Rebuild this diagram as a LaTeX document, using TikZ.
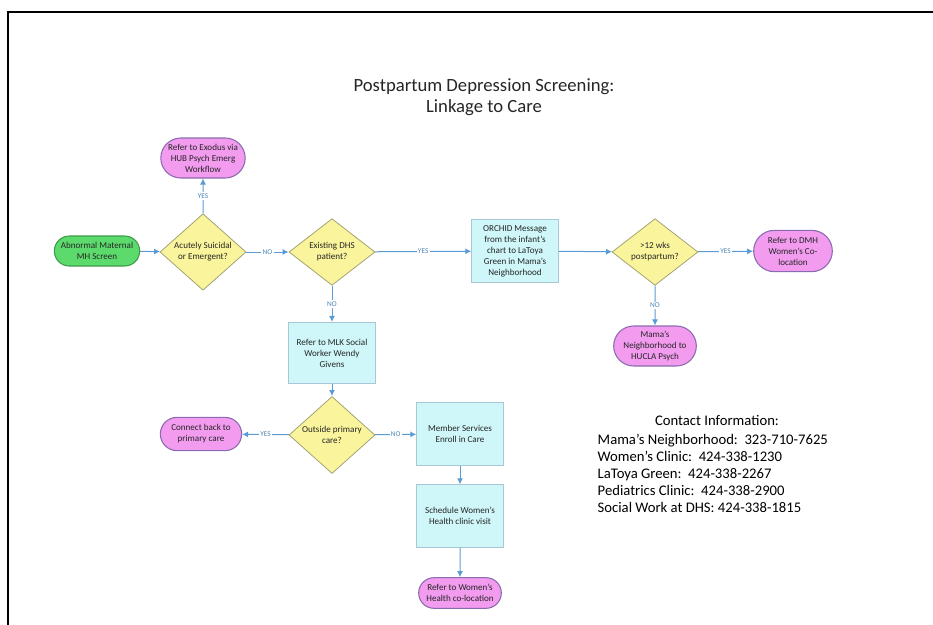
\documentclass[tikz,border=0pt]{standalone}
\usepackage{fontspec}
\setmainfont{Carlito}
\usepackage{xcolor}
\usepackage{tikz}
\usetikzlibrary{shapes.geometric,shapes.misc,arrows.meta}

\definecolor{pinkfill}{HTML}{F29BEF}
\definecolor{pinkline}{HTML}{8A6BB0}
\definecolor{greenfill}{HTML}{5CDB6C}
\definecolor{greenline}{HTML}{3E9A4A}
\definecolor{yellowfill}{HTML}{FAF59C}
\definecolor{yellowline}{HTML}{A3A374}
\definecolor{cyanfill}{HTML}{CFF6F8}
\definecolor{cyanline}{HTML}{A9C6D6}
\definecolor{flowblue}{HTML}{5B9BD5}
\definecolor{inktext}{HTML}{262626}

\newcommand{\boxfont}{\fontsize{6.8}{8.3}\selectfont}

\tikzset{
    endcap/.style={rounded rectangle, draw=pinkline, fill=pinkfill, line width=0.8pt, font=\boxfont, text=inktext, align=center, inner sep=1pt},
    startcap/.style={endcap, draw=greenline, fill=greenfill},
    decision/.style={diamond, draw=yellowline, fill=yellowfill, line width=0.6pt, minimum width=64.5pt, minimum height=50pt, inner sep=0pt, font=\boxfont, text=inktext, align=center},
    action/.style={rectangle, draw=cyanline, fill=cyanfill, line width=0.6pt, minimum width=65pt, minimum height=47pt, font=\boxfont, text=inktext, align=center},
    flow/.style={draw=flowblue, line width=0.75pt, -{Latex[length=4.5pt,width=4.5pt]}},
    yesno/.style={midway, fill=white, inner sep=1pt, text=flowblue!85!black, font=\fontsize{5.5}{6}\selectfont}
}

\begin{document}
\begin{tikzpicture}[x=0.75pt, y=-0.75pt]

\useasboundingbox (0,0) rectangle (933,625);
\draw[line width=1pt] (8,625) -- (8,12) -- (933,12);

\node[font=\fontsize{14}{16}\selectfont, text=inktext, align=center] (title) at (484,97) {Postpartum Depression Screening:\\Linkage to Care};

% top row
\node[startcap, minimum width=66pt, minimum height=22.5pt] (abnormal) at (97,251) {Abnormal Maternal\\MH Screen};
\node[decision] (suicidal) at (203,252) {Acutely Suicidal\\or Emergent?};
\node[endcap, minimum width=63pt, minimum height=30pt] (exodus) at (203,158) {Refer to Exodus via\\HUB Psych Emerg\\Workflow};
\node[decision] (dhs) at (332,252) {Existing DHS\\patient?};
\node[action] (orchid) at (515,251) {ORCHID Message\\from the infant's\\chart to LaToya\\Green in Mama's\\Neighborhood};
\node[decision] (weeks) at (655,252) {>12 wks\\postpartum?};
\node[endcap, minimum width=61pt, minimum height=31pt] (dmh) at (793,251) {Refer to DMH\\Women's Co-\\location};
\node[endcap, minimum width=64pt, minimum height=30pt] (mama) at (655,346) {Mama's\\Neighborhood to\\HUCLA Psych};

% lower part
\node[action, minimum height=46pt] (mlk) at (332,353) {Refer to MLK Social\\Worker Wendy\\Givens};
\node[decision] (outside) at (332,435) {Outside primary\\care?};
\node[endcap, minimum width=63pt, minimum height=25pt] (connect) at (201,434) {Connect back to\\primary care};
\node[action] (member) at (460,434) {Member Services\\Enroll in Care};
\node[action] (schedule) at (460,516) {Schedule Women's\\Health clinic visit};
\node[endcap, minimum width=64pt, minimum height=23pt] (womenhealth) at (460,593) {Refer to Women's\\Health co-location};

\draw[flow] (abnormal) -- (suicidal);
\draw[flow] (suicidal) -- node[yesno] {YES} (exodus);
\draw[flow] (suicidal) -- node[yesno] {NO} (dhs);
\draw[flow] (dhs) -- node[yesno] {YES} (orchid);
\draw[flow] (dhs) -- node[yesno] {NO} (mlk);
\draw[flow] (orchid) -- (weeks);
\draw[flow] (weeks) -- node[yesno] {YES} (dmh);
\draw[flow] (weeks) -- node[yesno] {NO} (mama);
\draw[flow] (mlk) -- (outside);
\draw[flow] (outside) -- node[yesno] {YES} (connect);
\draw[flow] (outside) -- node[yesno] {NO} (member);
\draw[flow] (member) -- (schedule);
\draw[flow] (schedule) -- (womenhealth);

% contacts
\node[font=\fontsize{11}{12.75}\selectfont, text=black] (contacthead) at (717,420) {Contact Information:};
\node[font=\fontsize{11}{12.75}\selectfont, text=black, align=left, anchor=north west] (contacts) at (593,429) {Mama's Neighborhood:\ \ 323-710-7625\\Women's Clinic:\ \ 424-338-1230\\LaToya Green:\ \ 424-338-2267\\Pediatrics Clinic:\ \ 424-338-2900\\Social Work at DHS: 424-338-1815};

\end{tikzpicture}
\end{document}
